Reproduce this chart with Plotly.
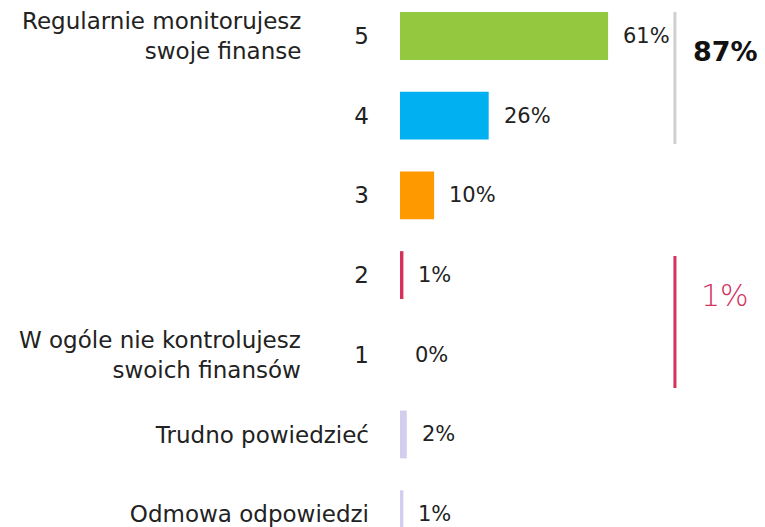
import plotly.graph_objects as go

categories = ["5", "4", "3", "2", "1", "Trudno powiedzieć", "Odmowa odpowiedzi"]
values = [61, 26, 10, 1, 0, 2, 1]
colors = ["#93C83F", "#00B0F0", "#FF9900", "#D3305C", "#D3305C", "#D2CFEE", "#D2CFEE"]
scale_labels = {0: "Regularnie monitorujesz<br>swoje finanse", 4: "W ogóle nie kontrolujesz<br>swoich finansów"}
positive_idx = [0, 1]
negative_idx = [3, 4]

FONT = "DejaVu Sans"
rows = list(range(len(categories)))

fig = go.Figure(go.Bar(
    x=values, y=rows, orientation="h", width=0.6,
    marker=dict(color=colors, line=dict(width=0)),
    hoverinfo="skip",
))

ann = []
for i, v in enumerate(values):
    ann.append(dict(x=v, y=i, xref="x", yref="y", text=f"{v}%", showarrow=False,
                    xanchor="left", xshift=13, font=dict(family=FONT, size=21, color="#222")))
for i, t in scale_labels.items():
    ann.append(dict(x=-97 / 365, y=i, xref="paper", yref="y", text=t, showarrow=False, xanchor="right",
                    align="right", font=dict(family=FONT, size=23, color="#222")))

pos_sum = sum(values[i] for i in positive_idx)
neg_sum = sum(values[i] for i in negative_idx)
ann.append(dict(x=95.3, y=0.2, xref="x", yref="y", text=f"<b>{pos_sum}%</b>", showarrow=False,
                font=dict(family=FONT, size=27, color="#111")))
ann.append(dict(x=95.3, y=3.25, xref="x", yref="y", text=f"{neg_sum}%", showarrow=False,
                font=dict(family=FONT, size=30, color="#D3305C", weight=300)))

shapes = [
    dict(type="line", xref="x", yref="y", x0=80.6, x1=80.6, y0=-0.3, y1=1.355,
         line=dict(color="#CFCFCF", width=3)),
    dict(type="line", xref="x", yref="y", x0=80.6, x1=80.6, y0=2.76, y1=4.417,
         line=dict(color="#D3305C", width=3)),
]

fig.update_layout(
    width=765, height=527, margin=dict(l=400, r=0, t=0, b=0),
    paper_bgcolor="white", plot_bgcolor="white", showlegend=False,
    xaxis=dict(range=[0, 107], visible=False, fixedrange=True),
    yaxis=dict(range=[6.161, -0.4517], tickmode="array", tickvals=rows, ticktext=categories,
               showgrid=False, zeroline=False, showline=False, ticks="",
               ticklabelstandoff=30, ticklabeloverflow="allow",
               tickfont=dict(family=FONT, size=23, color="#222")),
    annotations=ann, shapes=shapes,
)

fig.write_html("out.html", config={"displayModeBar": False},
               post_script="document.body.style.margin='0';document.body.style.overflow='hidden';")
